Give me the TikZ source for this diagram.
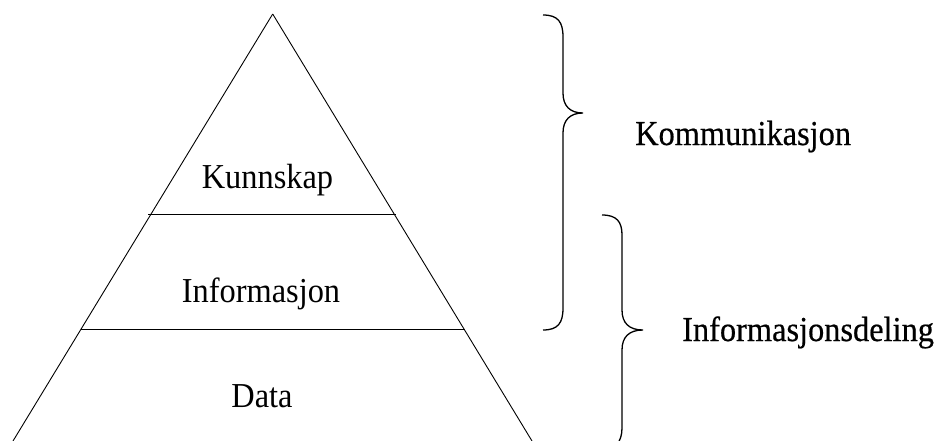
\documentclass[tikz,border=0pt]{standalone}
\usepackage{fontspec}
\setmainfont{Liberation Serif}
\newfontfamily\heavyfont{Liberation Serif}[FakeBold=0.5]
\usepackage{tikz}

\begin{document}
\begin{tikzpicture}[x=1pt,y=-1pt]
        \useasboundingbox (0,0) rectangle (939,441);
        \tikzset{
          lbl/.style={inner sep=0pt, anchor=base, font=\fontsize{35}{40}\selectfont},
          lyr/.style={line width=0.9pt},
          brc/.style={line width=1.3pt}
        }
        \newcommand{\narrow}[1]{\scalebox{0.925}[1]{#1}}
        \coordinate (top) at (272.7,14);
        \coordinate (bl) at (13,441);
        \coordinate (br) at (532,441);
        \coordinate (k1) at (148,214);
        \coordinate (k2) at (396,214);
        \coordinate (i1) at (81,329);
        \coordinate (i2) at (465,329);
        \node [lbl] (kunn) at (267.5,188) {\narrow{Kunnskap}};
        \node [lbl] (info) at (261,302) {\narrow{Informasjon}};
        \node [lbl] (data) at (262,407) {\narrow{Data}};
        \draw [lyr] (bl) to (top);
        \draw [lyr] (top) to (br);
        \draw [lyr] (k1) to (k2);
        \draw [lyr] (i1) to (i2);
        \coordinate (b1a) at (543,15);
        \coordinate (b1t) at (583,113);
        \coordinate (b1b) at (543,330);
        \coordinate (b2a) at (602,215);
        \coordinate (b2t) at (643,330);
        \coordinate (b2b) at (602,450);
        \draw [brc] (b1a) .. controls (558,15) and (563,22) .. (563,37) -- (563,93)
          .. controls (563,106) and (570,113) .. (b1t)
          .. controls (570,113) and (563,120) .. (563,133) -- (563,308)
          .. controls (563,323) and (558,330) .. (b1b);
        \draw [brc] (b2a) .. controls (617,215) and (622,222) .. (622,235) -- (622,310)
          .. controls (622,323) and (629,330) .. (b2t)
          .. controls (629,330) and (622,337) .. (622,350) -- (622,428)
          .. controls (622,442) and (615,450) .. (b2b);
        \node [lbl, anchor=base west] (komm) at (635,145) {\heavyfont\narrow{Kommunikasjon}};
        \node [lbl, anchor=base west] (deling) at (682,341) {\heavyfont\narrow{Informasjonsdeling}};
      \end{tikzpicture}
\end{document}
